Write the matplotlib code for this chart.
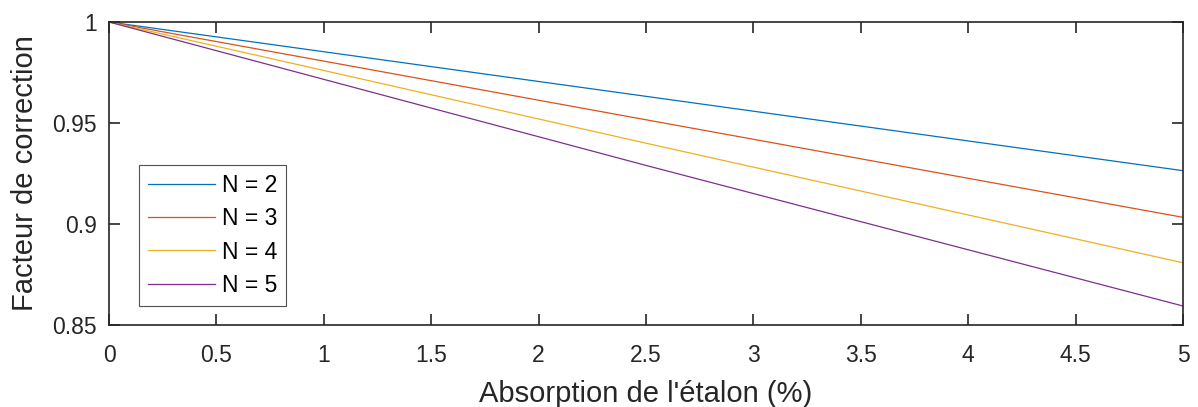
import matplotlib
matplotlib.use("Agg")
import matplotlib.pyplot as plt

plt.rcParams['font.family'] = ['Liberation Sans', 'DejaVu Sans']

absorption = [0, 2.5, 5]
series_labels = ['N = 2', 'N = 3', 'N = 4', 'N = 5']
n2 = [1.0, 0.9632, 0.9264]
n3 = [1.0, 0.9516, 0.9033]
n4 = [1.0, 0.9400, 0.8808]
n5 = [1.0, 0.9290, 0.8594]
colors = ['#0072BD', '#D95319', '#EDB120', '#7E2F8E']
xticks = [0, 0.5, 1, 1.5, 2, 2.5, 3, 3.5, 4, 4.5, 5]
yticks = [0.85, 0.9, 0.95, 1]

fig = plt.figure(figsize=(11.98, 4.07), dpi=100)
ax = fig.add_axes([109/1198, 1 - 325/407, (1183-109)/1198, (325-22)/407])
for ys, lab, c in zip([n2, n3, n4, n5], series_labels, colors):
    ax.plot(absorption, ys, color=c, lw=0.9, label=lab)

ax.set_xlim(0, 5)
ax.set_ylim(0.85, 1)
ax.set_xticks(xticks)
ax.set_xticklabels(['0', '0.5', '1', '1.5', '2', '2.5', '3', '3.5', '4', '4.5', '5'])
ax.set_yticks(yticks)
ax.set_yticklabels(['0.85', '0.9', '0.95', '1'])
edge = '#262626'
for s in ax.spines.values():
    s.set_color(edge)
    s.set_linewidth(1.2)
ax.tick_params(direction='in', length=8, width=1.2, colors=edge, labelcolor='#262626',
               labelsize=16.5, top=True, right=True)
ax.tick_params(axis='x', pad=14)
ax.tick_params(axis='y', pad=9)
ax.set_xlabel("Absorption de l'étalon (%)", fontsize=21, color='#262626', labelpad=9)
ax.set_ylabel("Facteur de correction", fontsize=21, color='#262626', labelpad=9)

leg = ax.legend(loc='lower left', bbox_to_anchor=((139-109)/1074, (325-306)/303),
                fontsize=16.5, frameon=True, fancybox=False, handlelength=2.9,
                borderaxespad=0, labelspacing=0.45, handletextpad=0.3, borderpad=0.4)
leg.get_frame().set_edgecolor('#262626')
leg.get_frame().set_linewidth(0.8)

fig.savefig('out.png', dpi=100)
